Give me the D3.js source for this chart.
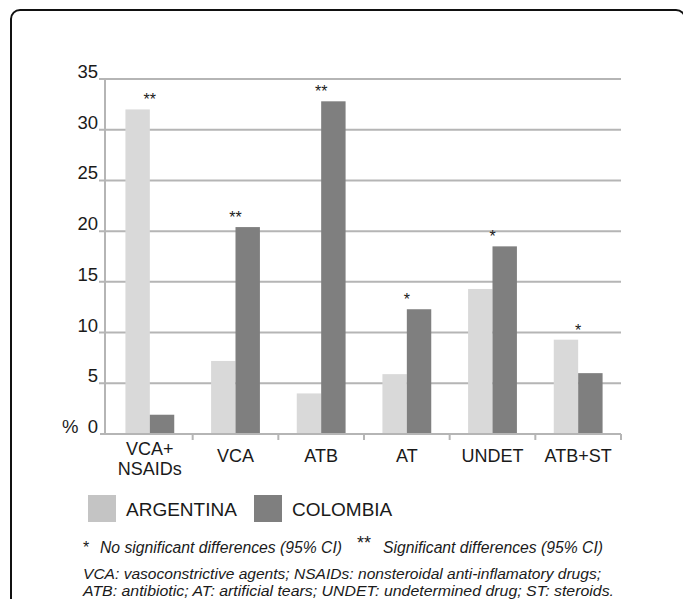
<!DOCTYPE html>
<html>
<head>
<meta charset="utf-8">
<script src="https://cdn.jsdelivr.net/npm/d3@7"></script>
<style>
  html, body { margin: 0; padding: 0; background: #fff; }
  svg { display: block; }
  text { font-family: "Liberation Sans", Arial, sans-serif; fill: #1a1a1a; }
</style>
</head>
<body>
<svg id="chart" width="683" height="599"></svg>
<script>
// Drug groups (two-word names wrap onto two lines)
const categories = ["VCA+ NSAIDs", "VCA", "ATB", "AT", "UNDET", "ATB+ST"];
const seriesNames = ["ARGENTINA", "COLOMBIA"];
// Percentage of patients per drug group
const argentina = [32.0, 7.2, 4.0, 5.9, 14.3, 9.3];
const colombia = [1.9, 20.4, 32.8, 12.3, 18.5, 6.0];
// Significance marks above each pair
const significance = ["**", "**", "**", "*", "*", "*"];
const yTicks = [0, 5, 10, 15, 20, 25, 30, 35];
const footnotes = [
  "VCA: vasoconstrictive agents; NSAIDs: nonsteroidal anti-inflamatory drugs;",
  "ATB: antibiotic; AT: artificial tears; UNDET: undetermined drug; ST: steroids."
];

const svg = d3.select("#chart");
const colors = { ARGENTINA: "#d9d9d9", COLOMBIA: "#7f7f7f" };
const legendColors = { ARGENTINA: "#c4c4c4", COLOMBIA: "#7f7f7f" };
const gridColor = "#b5b5b5";

// Rounded frame around the figure
svg.append("rect")
  .attr("x", 11).attr("y", 10)
  .attr("width", 674).attr("height", 640)
  .attr("rx", 9).attr("ry", 9)
  .attr("fill", "none").attr("stroke", "#111").attr("stroke-width", 2);

const axisLeftX = 105, plotRight = 621;
const y = d3.scaleLinear().domain([0, 35]).range([434, 79]);
const x0 = d3.scaleBand().domain(categories).range([107, plotRight])
  .paddingInner(0.43).paddingOuter(0.215);
const x1 = d3.scaleBand().domain(seriesNames).range([0, x0.bandwidth()]).padding(0);
const step = x0.step();
const groupCenter = c => x0(c) + x0.bandwidth() / 2;

// Horizontal gridlines with short left ticks
svg.append("g").selectAll("line").data(yTicks.filter(t => t > 0)).join("line")
  .attr("x1", axisLeftX - 6).attr("x2", plotRight)
  .attr("y1", d => y(d)).attr("y2", d => y(d))
  .attr("stroke", gridColor).attr("stroke-width", 2);

// Vertical axis line
svg.append("line")
  .attr("x1", axisLeftX).attr("x2", axisLeftX)
  .attr("y1", y(35)).attr("y2", y(0))
  .attr("stroke", gridColor).attr("stroke-width", 2);

// Bars
const rows = categories.map((c, i) => ({ cat: c, ARGENTINA: argentina[i], COLOMBIA: colombia[i], sig: significance[i] }));
const groups = svg.append("g").selectAll("g").data(rows).join("g")
  .attr("transform", d => `translate(${x0(d.cat)},0)`);
groups.selectAll("rect").data(d => seriesNames.map(s => ({ s, v: d[s] }))).join("rect")
  .attr("x", d => x1(d.s))
  .attr("width", x1.bandwidth())
  .attr("y", d => y(d.v))
  .attr("height", d => y(0) - y(d.v))
  .attr("fill", d => colors[d.s]);

// Significance asterisks
svg.append("g").selectAll("text").data(rows).join("text")
  .attr("x", d => groupCenter(d.cat))
  .attr("y", d => y(Math.max(d.ARGENTINA, d.COLOMBIA)) - 4)
  .attr("text-anchor", "middle")
  .attr("font-size", 16)
  .text(d => d.sig);

// Bottom axis with group separator ticks
const bottom = svg.append("g");
bottom.append("line")
  .attr("x1", axisLeftX - 5).attr("x2", plotRight)
  .attr("y1", y(0)).attr("y2", y(0))
  .attr("stroke", gridColor).attr("stroke-width", 2);
bottom.selectAll("line.tick").data(categories).join("line")
  .attr("class", "tick")
  .attr("x1", d => x0(d) - x0.paddingOuter() * step + step)
  .attr("x2", d => x0(d) - x0.paddingOuter() * step + step)
  .attr("y1", y(0)).attr("y2", y(0) + 6)
  .attr("stroke", gridColor).attr("stroke-width", 2);

// Category labels
bottom.selectAll("text").data(categories).join("text")
  .attr("text-anchor", "middle")
  .attr("font-size", 18)
  .attr("transform", d => `translate(${groupCenter(d)},${y(0)})`)
  .each(function (d) {
    const lines = d.split(" ");
    const t = d3.select(this);
    lines.forEach((ln, i) => {
      t.append("tspan").attr("x", 0)
        .attr("y", lines.length === 1 ? 28 : 21 + i * 20)
        .text(ln);
    });
  });

// Y tick labels
svg.append("g").selectAll("text").data(yTicks).join("text")
  .attr("x", 98).attr("y", d => y(d) - 1)
  .attr("text-anchor", "end")
  .attr("font-size", 18.5)
  .text(d => d);
svg.append("text").attr("x", 62).attr("y", y(0) - 1)
  .attr("font-size", 18.5).text("%");

// Legend
const legend = svg.append("g").selectAll("g").data(seriesNames).join("g")
  .attr("transform", (d, i) => `translate(${[88, 254][i]},495)`);
legend.append("rect").attr("width", 28).attr("height", 27)
  .attr("fill", d => legendColors[d]);
legend.append("text").attr("x", 38).attr("y", 21)
  .attr("font-size", 19).text(d => d);

// Significance key
const key = svg.append("g").attr("font-size", 16);
key.append("text").attr("x", 83).attr("y", 553).text("*");
key.append("text").attr("x", 100).attr("y", 553).attr("font-style", "italic")
  .attr("textLength", 242).attr("lengthAdjust", "spacingAndGlyphs")
  .text("No significant differences (95% CI)");
key.append("text").attr("x", 357).attr("y", 549).attr("font-size", 18).text("**");
key.append("text").attr("x", 383).attr("y", 553).attr("font-style", "italic")
  .attr("textLength", 220).attr("lengthAdjust", "spacingAndGlyphs")
  .text("Significant differences (95% CI)");

// Abbreviations
svg.append("g").selectAll("text").data(footnotes).join("text")
  .attr("x", 83).attr("y", (d, i) => 579 + i * 17)
  .attr("font-size", 15.5).attr("font-style", "italic")
  .attr("textLength", (d, i) => [518, 531][i])
  .attr("lengthAdjust", "spacingAndGlyphs")
  .text(d => d);
</script>
</body>
</html>
